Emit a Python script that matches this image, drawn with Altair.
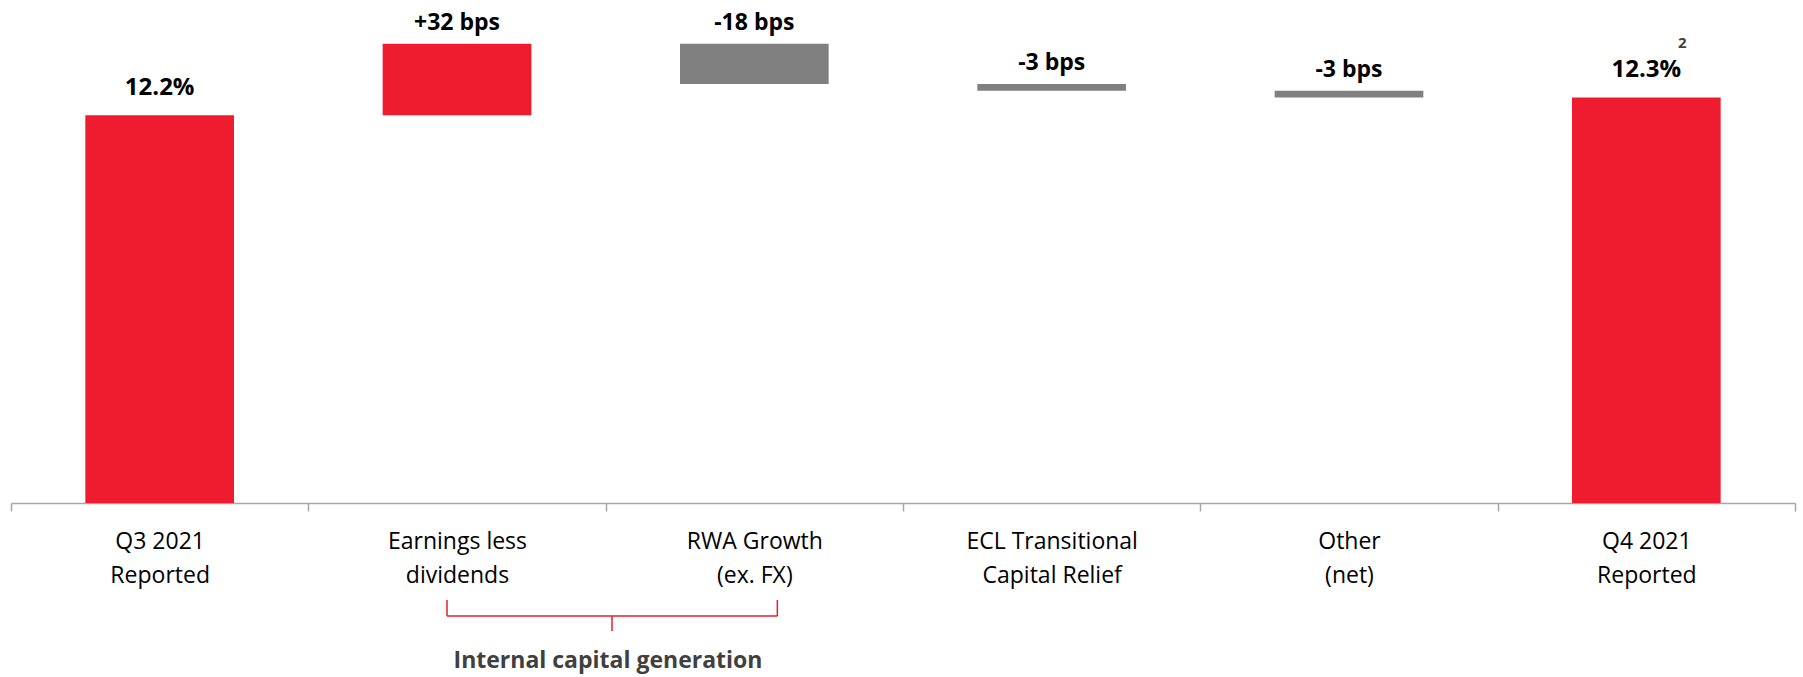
import altair as alt
import pandas as pd

# ---- data ----
categories = [
    "Q3 2021|Reported",
    "Earnings less|dividends",
    "RWA Growth|(ex. FX)",
    "ECL Transitional|Capital Relief",
    "Other|(net)",
    "Q4 2021|Reported",
]
start_ratio = 12.2            # CET1 ratio, %, Q3 2021
changes_bps = [32, -18, -3, -3]
bracket_from = "Earnings less|dividends"
bracket_to = "RWA Growth|(ex. FX)"
bracket_label = "Internal capital generation"
footnote = "2"

# ---- build waterfall table ----
axis_floor = 10.47
axis_top = 12.63
rows = [dict(cat=categories[0], lo=axis_floor, hi=start_ratio, kind="total",
             label=f"{start_ratio:.1f}%")]
level = start_ratio
for cat, d in zip(categories[1:-1], changes_bps):
    new = level + d / 100.0
    rows.append(dict(cat=cat, lo=level, hi=new, kind="increase" if d > 0 else "decrease",
                     label=f"{d:+d} bps"))
    level = new
rows.append(dict(cat=categories[-1], lo=axis_floor, hi=level, kind="total",
                 label=f"{level:.1f}%"))
df = pd.DataFrame(rows)
df["top"] = df[["lo", "hi"]].max(axis=1)
df["foot"] = [footnote if (i == len(df) - 1) else "" for i in range(len(df))]

RED = "#EE1C2E"
GRAY = "#808080"
FONT = "Open Sans"

xscale = alt.Scale(domain=categories, paddingInner=0, paddingOuter=0)
x = alt.X(
    "cat:N",
    scale=xscale,
    axis=alt.Axis(
        title=None,
        labelAngle=0,
        labelExpr="split(datum.label, '|')",
        labelFont=FONT,
        labelFontSize=23,
        labelColor="#000000",
        labelLineHeight=34,
        labelBaseline="alphabetic",
        labelPadding=37,
        tickBand="extent",
        tickSize=8,
        tickColor="#A6A6A6",
        tickWidth=1.5,
        domainColor="#A6A6A6",
        domainWidth=1.5,
        grid=False,
    ),
)
yscale = alt.Scale(domain=[axis_floor, axis_top], zero=False, nice=False)

base = alt.Chart(df)

bars = base.mark_bar(width=alt.RelativeBandSize(0.5)).encode(
    x=x,
    y=alt.Y("lo:Q", scale=yscale, axis=None),
    y2="hi:Q",
    color=alt.Color("kind:N", scale=alt.Scale(domain=["total", "increase", "decrease"],
                                              range=[RED, RED, GRAY]), legend=None),
)

delta_labels = base.transform_filter("datum.kind != 'total'").mark_text(
    font=FONT, fontSize=23, fontWeight="bold", color="#000000",
    baseline="alphabetic", dy=-14,
).encode(x=alt.X("cat:N", scale=xscale), y=alt.Y("top:Q", scale=yscale), text="label:N")

total_labels = base.transform_filter("datum.kind == 'total'").mark_text(
    font=FONT, fontSize=24, fontWeight="bold", color="#000000",
    baseline="alphabetic", dy=-20,
).encode(x=alt.X("cat:N", scale=xscale), y=alt.Y("top:Q", scale=yscale), text="label:N")

foot_mark = base.transform_filter("datum.foot != ''").mark_text(
    font=FONT, fontSize=15, fontWeight="bold", color="#404040",
    baseline="alphabetic", dx=36, dy=-49,
).encode(x=alt.X("cat:N", scale=xscale), y=alt.Y("top:Q", scale=yscale), text="foot:N")

# ---- bracket annotation under the two internal-capital bars ----
bdf = pd.DataFrame({"a": [bracket_from], "b": [bracket_to], "t": [bracket_label]})
bb = alt.Chart(bdf)
BR = dict(color="#EE1C2E", strokeWidth=1.5)
b_h = bb.mark_rule(xOffset=-10, x2Offset=23, **BR).encode(
    x=alt.X("a:N", scale=xscale), x2="b:N", y=alt.value(597))
b_l = bb.mark_rule(xOffset=-10, **BR).encode(
    x=alt.X("a:N", scale=xscale), y=alt.value(581), y2=alt.value(597))
b_r = bb.mark_rule(xOffset=23, **BR).encode(
    x=alt.X("b:N", scale=xscale), y=alt.value(581), y2=alt.value(597))
b_tip = bb.mark_rule(xOffset=155, **BR).encode(
    x=alt.X("a:N", scale=xscale), y=alt.value(597), y2=alt.value(612))
b_text = bb.mark_text(
    font=FONT, fontSize=23, fontWeight="bold", color="#404040",
    baseline="alphabetic", xOffset=151,
).encode(x=alt.X("a:N", scale=xscale), y=alt.value(649), text="t:N")

chart = alt.layer(
    bars, delta_labels, total_labels, foot_mark, b_h, b_l, b_r, b_tip, b_text
).properties(
    width=1784, height=484,
    autosize=alt.AutoSizeParams(type="none"),
    padding={"left": 11, "top": 19, "right": 8, "bottom": 174},
).configure_view(stroke=None)

chart.save("out.html", embed_options={"renderer": "svg", "actions": False})
